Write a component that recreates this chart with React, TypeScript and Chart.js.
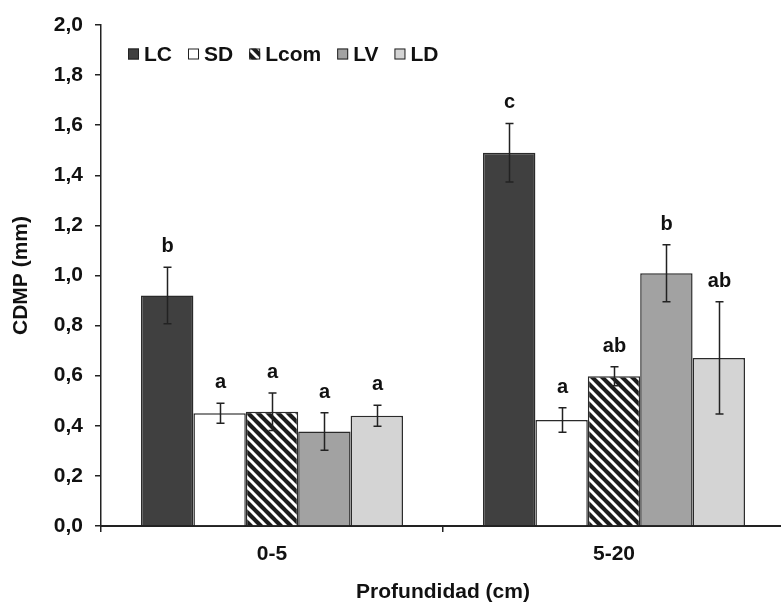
import React, { useEffect, useRef } from "react";
import { Chart, registerables } from "chart.js";

Chart.register(...registerables);

const categories = ["0-5", "5-20"];
const seriesNames = ["LC", "SD", "Lcom", "LV", "LD"];

const lcValues = [0.92, 1.49];
const sdValues = [0.45, 0.423];
const lcomValues = [0.456, 0.598];
const lvValues = [0.377, 1.009];
const ldValues = [0.44, 0.671];

const lcErrors = [0.113, 0.117];
const sdErrors = [0.04, 0.049];
const lcomErrors = [0.075, 0.038];
const lvErrors = [0.075, 0.114];
const ldErrors = [0.042, 0.224];

const lcLetters = ["b", "c"];
const sdLetters = ["a", "a"];
const lcomLetters = ["a", "ab"];
const lvLetters = ["a", "b"];
const ldLetters = ["a", "ab"];

const yMin = 0;
const yMax = 2.0;
const yStep = 0.2;

const xTitle = "Profundidad (cm)";
const yTitle = "CDMP (mm)";

const FONT = "'Liberation Sans', Arial, sans-serif";

function makeHatch(): CanvasPattern | string {
  const c = document.createElement("canvas");
  const s = 10;
  c.width = s;
  c.height = s;
  const g = c.getContext("2d");
  if (!g) return "#222";
  g.fillStyle = "#1c1c1c";
  g.fillRect(0, 0, s, s);
  g.strokeStyle = "#ffffff";
  g.lineWidth = 3;
  for (const off of [-s, 0, s]) {
    g.beginPath();
    g.moveTo(-2, -2 + off);
    g.lineTo(s + 2, s + 2 + off);
    g.stroke();
  }
  const p = g.createPattern(c, "repeat");
  return p || "#222";
}

export default function App() {
  const ref = useRef<HTMLCanvasElement | null>(null);

  useEffect(() => {
    if (!ref.current) return;
    const hatch = makeHatch();
    const values = [lcValues, sdValues, lcomValues, lvValues, ldValues];
    const errors = [lcErrors, sdErrors, lcomErrors, lvErrors, ldErrors];
    const letters = [lcLetters, sdLetters, lcomLetters, lvLetters, ldLetters];
    const fills: any[] = ["#404040", "#ffffff", hatch, "#a2a2a2", "#d4d4d4"];

    const errorPlugin = {
      id: "errorBars",
      afterDatasetsDraw(chart: any) {
        const ctx = chart.ctx;
        const yScale = chart.scales.y;
        ctx.save();
        ctx.strokeStyle = "#222";
        ctx.lineWidth = 1.5;
        ctx.fillStyle = "#111";
        ctx.font = `bold 20px ${FONT}`;
        ctx.textAlign = "center";
        ctx.textBaseline = "alphabetic";
        chart.data.datasets.forEach((ds: any, i: number) => {
          const meta = chart.getDatasetMeta(i);
          meta.data.forEach((el: any, j: number) => {
            const v = values[i][j];
            const e = errors[i][j];
            const x = Math.round(el.x) + 0.5;
            const yt = yScale.getPixelForValue(v + e);
            const yb = yScale.getPixelForValue(v - e);
            ctx.beginPath();
            ctx.moveTo(x, yt);
            ctx.lineTo(x, yb);
            ctx.moveTo(x - 4, yt);
            ctx.lineTo(x + 4, yt);
            ctx.moveTo(x - 4, yb);
            ctx.lineTo(x + 4, yb);
            ctx.stroke();
            ctx.fillText(letters[i][j], x, yt - 15);
          });
        });
        ctx.restore();
      },
    };

    const legendPlugin = {
      id: "insideLegend",
      afterDraw(chart: any) {
        const ctx = chart.ctx;
        const area = chart.chartArea;
        ctx.save();
        ctx.font = `bold 21px ${FONT}`;
        ctx.textBaseline = "middle";
        ctx.textAlign = "left";
        let x = area.left + 27;
        const cy = area.top + 29;
        chart.data.datasets.forEach((ds: any) => {
          ctx.fillStyle = ds.backgroundColor;
          ctx.fillRect(x, cy - 5.5, 11, 11);
          ctx.strokeStyle = "#222";
          ctx.lineWidth = 1;
          ctx.strokeRect(x + 0.5, cy - 5, 10, 10);
          x += 16;
          ctx.fillStyle = "#111";
          ctx.fillText(ds.label, x, cy + 1);
          x += ctx.measureText(ds.label).width + 16;
        });
        ctx.restore();
      },
    };

    const chart = new Chart(ref.current, {
      type: "bar",
      data: {
        labels: categories,
        datasets: seriesNames.map((name, i) => ({
          label: name,
          data: values[i],
          backgroundColor: fills[i],
          borderColor: "#2a2a2a",
          borderWidth: 1.5,
          barPercentage: 1,
          categoryPercentage: 0.766,
        })),
      },
      options: {
        responsive: false,
        animation: false,
        devicePixelRatio: 1,
        layout: { padding: { top: 25, left: 0, right: 0, bottom: 0 } },
        plugins: {
          legend: { display: false },
          tooltip: { enabled: false },
        },
        scales: {
          x: {
            offset: true,
            grid: {
              offset: true,
              drawOnChartArea: false,
              drawTicks: true,
              tickLength: 6,
              color: "#222",
              lineWidth: 1.5,
            },
            border: { display: true, color: "#222", width: 2 },
            ticks: {
              color: "#111",
              padding: 10,
              font: { family: FONT, size: 21, weight: "bold" },
            },
            title: {
              display: true,
              text: xTitle,
              color: "#111",
              font: { family: FONT, size: 21, weight: "bold", lineHeight: 1.2 },
              padding: { top: 0, bottom: 0 },
            },
            afterFit(scale: any) {
              scale.height = 79;
            },
          },
          y: {
            min: yMin,
            max: yMax,
            ticks: {
              stepSize: yStep,
              color: "#111",
              padding: 12,
              font: { family: FONT, size: 21, weight: "bold" },
              callback: (v: any) => Number(v).toFixed(1).replace(".", ","),
            },
            grid: {
              drawOnChartArea: false,
              drawTicks: true,
              tickLength: 6,
              color: "#222",
              lineWidth: 1.5,
            },
            border: { display: true, color: "#222", width: 1.5 },
            title: {
              display: true,
              text: yTitle,
              color: "#111",
              font: { family: FONT, size: 21, weight: "bold", lineHeight: 1.2 },
              padding: { top: 9, bottom: 0 },
            },
            afterFit(scale: any) {
              scale.width = 101;
            },
          },
        },
      } as any,
      plugins: [errorPlugin, legendPlugin],
    });
    return () => chart.destroy();
  }, []);

  return (
    <div
      style={{
        position: "fixed",
        left: 0,
        top: 0,
        width: 781,
        height: 605,
        overflow: "hidden",
        background: "#fff",
      }}
    >
      <canvas ref={ref} width={785} height={605} style={{ display: "block" }} />
    </div>
  );
}
